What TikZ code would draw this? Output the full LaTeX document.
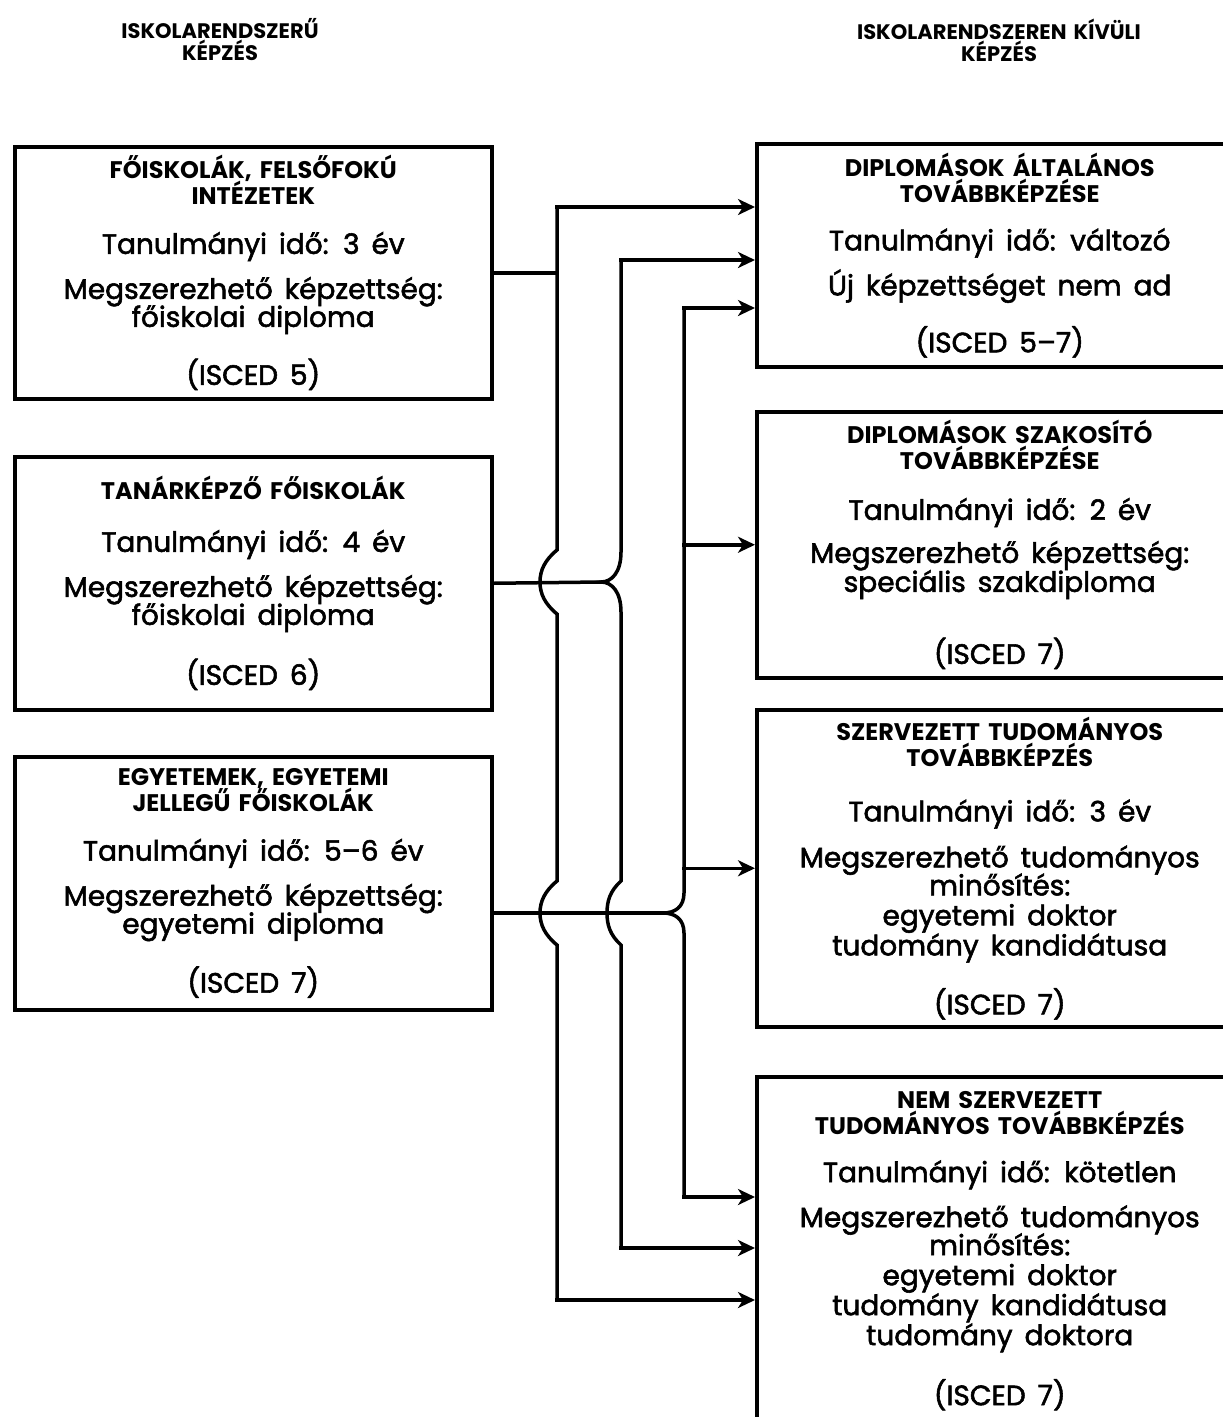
\documentclass[tikz,border=0pt]{standalone}
\usepackage{fontspec}
\setmainfont{Poppins}[WordSpace=1.6, UprightFeatures={FakeBold=2}]
\usetikzlibrary{arrows.meta, positioning}
\newcommand{\bodyfont}{\fontsize{28}{28}\selectfont\lineskiplimit=-100pt\relax}
\newcommand{\ttl}{\fontsize{24}{20}\selectfont\bfseries}
\tikzset{
box/.style={draw, line width=3.5pt, rectangle, align=center, inner sep=0pt, anchor=north west, font=\bodyfont}, % every frame
lbox/.style={box, minimum width=477pt}, % left column
rbox/.style={box, minimum width=486pt}, % right column, cut by the page edge
head/.style={align=center, font=\fontsize{21}{22}\selectfont\bfseries},
wire/.style={line width=3.5pt, line cap=rect},
arr/.style={wire, -{Stealth[length=17pt,width=16pt,inset=5pt]}},
}

\begin{document}
\begin{tikzpicture}[x=1pt,y=-1pt]
\useasboundingbox (0,0) rectangle (1223,1417);
\clip (0,0) rectangle (1223,1417);

% headings
\node[head] (hl) at (220,40) {ISKOLARENDSZERŰ\\KÉPZÉS};
\node[head] (hr) at (999,40) {ISKOLARENDSZEREN KÍVÜLI\\KÉPZÉS};

% left column
\node[lbox, minimum height=252pt] (l1) at (13,145)
{{\ttl FŐISKOLÁK, FELSŐFOKÚ}\\[-2pt]{\ttl INTÉZETEK}\\[21pt]Tanulmányi idő: 3 év\\[17pt]Megszerezhető képzettség:\\főiskolai diploma\\[30pt](ISCED 5)};
\node[lbox, minimum height=253pt] (l2) at (13,455)
{{\ttl TANÁRKÉPZŐ FŐISKOLÁK}\\[24pt]Tanulmányi idő: 4 év\\[17pt]Megszerezhető képzettség:\\főiskolai diploma\\[32pt](ISCED 6)};
\node[lbox, minimum height=253pt] (l3) at (13,755)
{{\ttl EGYETEMEK, EGYETEMI}\\[-2pt]{\ttl JELLEGŰ FŐISKOLÁK}\\[21pt]Tanulmányi idő: 5–6 év\\[17pt]Megszerezhető képzettség:\\egyetemi diploma\\[31pt](ISCED 7)};

% right column
\node[rbox, minimum height=223pt] (r1) at (755,142)
{{\ttl DIPLOMÁSOK ÁLTALÁNOS}\\[-2pt]{\ttl TOVÁBBKÉPZÉSE}\\[20pt]Tanulmányi idő: változó\\[17pt]Új képzettséget nem ad\\[29pt](ISCED 5–7)};
\node[rbox, minimum height=266pt] (r2) at (755,410)
{{\ttl DIPLOMÁSOK SZAKOSÍTÓ}\\[-2pt]{\ttl TOVÁBBKÉPZÉSE}\\[22pt]Tanulmányi idő: 2 év\\[15pt]Megszerezhető képzettség:\\[1pt]speciális szakdiploma\\[44pt](ISCED 7)};
\node[rbox, minimum height=317pt] (r3) at (755,708)
{{\ttl SZERVEZETT TUDOMÁNYOS}\\[-2pt]{\ttl TOVÁBBKÉPZÉS}\\[27pt]Tanulmányi idő: 3 év\\[18pt]Megszerezhető tudományos\\minősítés:\\[2pt]egyetemi doktor\\[2pt]tudomány kandidátusa\\[31pt](ISCED 7)};
\node[rbox, minimum height=348pt] (r4) at (755,1075)
{{\ttl NEM SZERVEZETT}\\[-2pt]{\ttl TUDOMÁNYOS TOVÁBBKÉPZÉS}\\[20pt]Tanulmányi idő: kötetlen\\[17pt]Megszerezhető tudományos\\minősítés:\\[2pt]egyetemi doktor\\[2pt]tudomány kandidátusa\\[2pt]tudomány doktora\\[32pt](ISCED 7)};

% bus ends and branch points
\coordinate (b1t) at (557,207);
\coordinate (b1b) at (557,1300);
\coordinate (b2t) at (621,260);
\coordinate (b2b) at (621,1248);
\coordinate (b2j) at (601,582);
\coordinate (b3t) at (684,308);
\coordinate (b3b) at (684,1197);
\coordinate (b3j) at (663,913);

% first bus, hopping over the two lower feeds
\draw[wire] (l1.east) -- (l1.east -| b1t);
\draw[wire] (b1t) -- (557,550) .. controls (545,560) and (540,570) .. (540,582)
  .. controls (540,594) and (545,604) .. (557,614) -- (557,881)
  .. controls (545,891) and (540,901) .. (540,913)
  .. controls (540,925) and (545,935) .. (557,945) -- (b1b);
\draw[arr] (b1t) -- (b1t -| r1.west);
\draw[arr] (b1b) -- (b1b -| r4.west);

% second bus
\draw[wire] (l2.east) -- (b2j);
\draw[wire] (b2t) -- (621,552) .. controls (621,572) and (612,582) .. (b2j)
  .. controls (612,582) and (621,592) .. (621,612) -- (621,881)
  .. controls (610,891) and (607,901) .. (607,913)
  .. controls (607,925) and (610,935) .. (621,945) -- (b2b);
\draw[arr] (b2t) -- (b2t -| r1.west);
\draw[arr] (b2b) -- (b2b -| r4.west);

% third bus
\draw[wire] (l3.east |- b3j) -- (b3j);
\draw[wire] (b3t) -- (684,893) .. controls (684,907) and (675,913) .. (b3j)
  .. controls (675,913) and (684,919) .. (684,933) -- (b3b);
\draw[arr] (b3t) -- (b3t -| r1.west);
\draw[arr] (r2.west -| b3t) -- (r2.west);
\draw[arr] (r3.west -| b3t) -- (r3.west);
\draw[arr] (b3b) -- (b3b -| r4.west);
\end{tikzpicture}
\end{document}
